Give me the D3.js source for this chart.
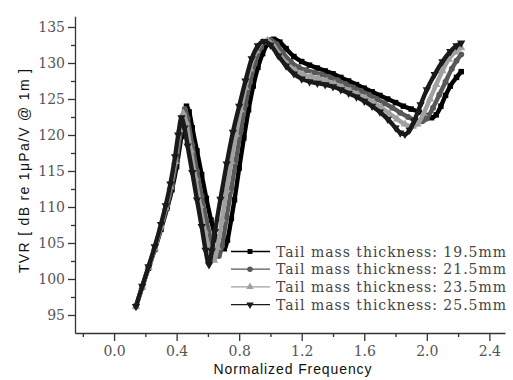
<!DOCTYPE html>
<html>
<head>
<meta charset="utf-8">
<script src="https://cdn.jsdelivr.net/npm/d3@7"></script>
<style>
body { margin: 0; background: #fff; }
svg { display: block; }
.ticklab text { font-family: "DejaVu Serif", serif; font-size: 14px; fill: #555; }
.ticklab path, .ticklab line, .minor line { stroke: #333; stroke-width: 1.3; }
.minor path { display: none; }
.title { font-family: "Liberation Sans", Arial, sans-serif; font-size: 14px; fill: #111; }
.leg { font-family: "DejaVu Serif", serif; font-size: 14px; fill: #444; }
</style>
</head>
<body>
<svg id="chart" width="513" height="380"></svg>
<script>
const seriesNames = ["Tail mass thickness: 19.5mm", "Tail mass thickness: 21.5mm",
                     "Tail mass thickness: 23.5mm", "Tail mass thickness: 25.5mm"]
const seriesColors = ["#000000", "#585858", "#a0a0a0", "#1a1a1a"]

const xMajor = [0.0, 0.4, 0.8, 1.2, 1.6, 2.0, 2.4]
const xMinor = [-0.2, 0.2, 0.6, 1.0, 1.4, 1.8, 2.2]
const yMajor = [95, 100, 105, 110, 115, 120, 125, 130, 135]
const yMinor = [97.5, 102.5, 107.5, 112.5, 117.5, 122.5, 127.5, 132.5]

// [normalized frequency, TVR dB]
const tail195 = [[0.14,96.2],[0.18,98.9],[0.22,101.5],[0.26,104.1],[0.30,106.9],[0.34,109.9],[0.37,112.4],
  [0.40,115.6],[0.43,119.8],[0.45,122.8],[0.463,124.0],[0.48,123.2],[0.50,121.0],[0.53,117.8],[0.56,114.5],
  [0.59,111.2],[0.62,108.2],[0.65,105.8],[0.68,104.5],[0.705,104.2],[0.725,105.4],[0.75,108.4],[0.77,111.0],
  [0.80,115.4],[0.83,119.6],[0.86,123.5],[0.89,126.8],[0.92,129.4],[0.95,131.3],[0.98,132.6],[1.02,133.3],
  [1.06,132.9],[1.10,132.0],[1.15,130.9],[1.20,130.2],[1.25,129.7],[1.30,129.3],[1.35,128.9],[1.40,128.5],
  [1.45,128.0],[1.50,127.5],[1.55,127.0],[1.60,126.5],[1.65,126.0],[1.70,125.5],[1.75,125.0],[1.80,124.5],
  [1.85,124.0],[1.90,123.6],[1.95,123.2],[2.00,122.7],[2.03,122.4],[2.06,122.8],[2.09,124.0],[2.12,125.5],
  [2.15,126.8],[2.19,128.0],[2.22,128.8]]
const tail215 = [[0.14,96.2],[0.18,98.9],[0.22,101.6],[0.26,104.2],[0.30,107.1],[0.34,110.2],[0.37,113.0],
  [0.40,116.6],[0.43,121.0],[0.452,123.6],[0.47,122.3],[0.50,118.6],[0.53,115.0],[0.56,111.5],[0.59,108.2],
  [0.62,105.5],[0.65,103.6],[0.67,103.2],[0.69,104.6],[0.72,108.6],[0.75,112.6],[0.78,116.6],[0.81,120.6],
  [0.84,124.2],[0.87,127.4],[0.90,129.9],[0.94,132.2],[0.97,133.0],[1.00,133.2],[1.04,132.6],[1.08,131.4],
  [1.13,130.2],[1.18,129.4],[1.23,129.0],[1.28,128.7],[1.33,128.4],[1.38,128.0],[1.43,127.6],[1.48,127.1],
  [1.53,126.6],[1.58,126.1],[1.63,125.6],[1.68,125.0],[1.73,124.4],[1.78,123.8],[1.83,123.1],[1.88,122.5],
  [1.93,122.0],[1.97,121.9],[2.00,122.3],[2.04,123.8],[2.08,125.6],[2.12,127.4],[2.16,129.2],[2.19,130.3],
  [2.22,131.2]]
const tail235 = [[0.14,96.2],[0.18,98.9],[0.22,101.6],[0.26,104.3],[0.30,107.3],[0.33,109.9],[0.36,112.8],
  [0.39,116.3],[0.42,120.8],[0.442,123.0],[0.46,121.8],[0.49,117.9],[0.52,114.0],[0.55,110.2],[0.58,106.7],
  [0.61,104.0],[0.64,102.6],[0.66,104.4],[0.69,108.3],[0.72,112.4],[0.75,116.3],[0.78,120.1],[0.81,123.5],
  [0.84,126.6],[0.87,129.2],[0.91,131.7],[0.95,132.9],[0.98,133.1],[1.02,132.4],[1.06,131.1],[1.11,129.8],
  [1.16,128.9],[1.21,128.4],[1.26,128.1],[1.31,127.8],[1.36,127.5],[1.41,127.1],[1.46,126.6],[1.51,126.1],
  [1.56,125.6],[1.61,125.1],[1.66,124.5],[1.71,123.8],[1.76,123.0],[1.81,122.2],[1.86,121.5],[1.91,121.2],
  [1.94,121.5],[1.98,123.0],[2.02,125.0],[2.06,127.0],[2.10,128.9],[2.14,130.5],[2.18,131.5],[2.22,132.1]]
const tail255 = [[0.14,96.2],[0.18,99.0],[0.22,101.7],[0.26,104.5],[0.30,107.6],[0.33,110.2],[0.36,113.2],
  [0.39,117.0],[0.41,120.0],[0.431,122.4],[0.45,121.0],[0.47,118.5],[0.50,114.8],[0.53,111.0],[0.56,107.3],
  [0.585,104.0],[0.607,102.0],[0.625,103.9],[0.645,106.6],[0.68,111.1],[0.72,116.0],[0.76,120.4],[0.80,124.0],
  [0.84,127.5],[0.88,130.6],[0.92,132.4],[0.96,133.0],[1.00,132.5],[1.05,131.0],[1.10,129.6],[1.15,128.5],
  [1.20,127.8],[1.25,127.4],[1.30,127.2],[1.35,127.0],[1.40,126.7],[1.45,126.3],[1.50,125.8],[1.55,125.3],
  [1.60,124.7],[1.65,124.0],[1.70,123.2],[1.75,122.2],[1.80,121.0],[1.83,120.3],[1.86,120.1],[1.89,120.7],
  [1.92,122.0],[1.96,124.2],[2.00,126.3],[2.05,128.4],[2.10,130.2],[2.15,131.6],[2.19,132.4],[2.22,132.8]]

const allData = [tail195, tail215, tail235, tail255]
const symbols = [d3.symbolSquare, d3.symbolCircle, d3.symbolTriangle, d3.symbolTriangle]
const symbolSizes = [30, 28, 30, 30]
const symbolRotate = [0, 0, 0, 180]

const svg = d3.select("#chart")

const x = d3.scaleLinear().domain([-0.25, 2.5]).range([75, 505])
const y = d3.scaleLinear().domain([92.5, 136.5]).range([333, 16.2])

// minor ticks
svg.append("g").attr("class", "minor")
  .attr("transform", "translate(0,333)")
  .call(d3.axisBottom(x).tickValues(xMinor).tickSize(4).tickFormat(""))
svg.append("g").attr("class", "minor")
  .attr("transform", "translate(75,0)")
  .call(d3.axisLeft(y).tickValues(yMinor).tickSize(4).tickFormat(""))

// major ticks + axis lines
svg.append("g").attr("class", "ticklab")
  .attr("transform", "translate(0,333)")
  .call(d3.axisBottom(x).tickValues(xMajor).tickSize(8).tickSizeOuter(0).tickPadding(5).tickFormat(d3.format(".1f")))
svg.append("g").attr("class", "ticklab")
  .attr("transform", "translate(75,0)")
  .call(d3.axisLeft(y).tickValues(yMajor).tickSize(7).tickSizeOuter(0).tickPadding(3).tickFormat(d3.format("d")))

//axis titles
svg.append("text").attr("class", "title")
  .attr("x", 292.5).attr("y", 373.5)
  .attr("text-anchor", "middle")
  .attr("textLength", 158).attr("lengthAdjust", "spacing")
  .text("Normalized Frequency")
svg.append("text").attr("class", "title")
  .attr("transform", "translate(29,171) rotate(-90)")
  .attr("text-anchor", "middle")
  .attr("textLength", 204).attr("lengthAdjust", "spacing")
  .text("TVR [ dB re 1μPa/V @ 1m ]")

const line = d3.line()
  .x(function (d) { return x(d[0]) })
  .y(function (d) { return y(d[1]) })
  .curve(d3.curveMonotoneX)

allData.forEach(function (data, i) {
  const g = svg.append("g").attr("class", "series")
  g.append("path")
    .datum(data)
    .attr("fill", "none")
    .attr("stroke", seriesColors[i])
    .attr("stroke-width", 4.4)
    .attr("stroke-linejoin", "round")
    .attr("d", line)
  g.selectAll("path.mk")
    .data(data)
    .enter()
    .append("path")
    .attr("class", "mk")
    .attr("d", d3.symbol().type(symbols[i]).size(symbolSizes[i]))
    .attr("fill", seriesColors[i])
    .attr("transform", function (d) {
      return "translate(" + x(d[0]) + "," + y(d[1]) + ") rotate(" + symbolRotate[i] + ")"
    })
})

//legend
const legRows = [251.5, 269.2, 286.9, 304.6]
const leg = svg.append("g").attr("id", "legend")
seriesNames.forEach(function (name, i) {
  leg.append("line")
    .attr("x1", 231).attr("x2", 270)
    .attr("y1", legRows[i]).attr("y2", legRows[i])
    .attr("stroke", seriesColors[i]).attr("stroke-width", 1.3)
  leg.append("path")
    .attr("d", d3.symbol().type(symbols[i]).size(24))
    .attr("fill", seriesColors[i])
    .attr("transform", "translate(250," + legRows[i] + ") rotate(" + symbolRotate[i] + ")")
  leg.append("text").attr("class", "leg")
    .attr("x", 276).attr("y", legRows[i] + 5)
    .attr("textLength", 230).attr("lengthAdjust", "spacing")
    .text(name)
})
</script>
</body>
</html>
